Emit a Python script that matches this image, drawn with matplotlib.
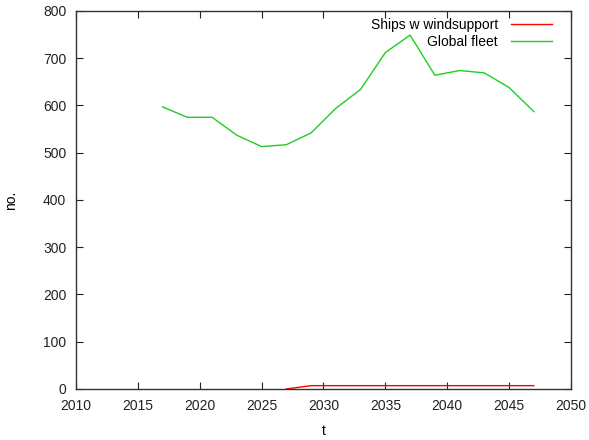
import matplotlib
matplotlib.use("Agg")
import matplotlib.pyplot as plt

plt.rcParams['font.family'] = ['Liberation Sans', 'DejaVu Sans']

# Fleet counts per year
fleet_years = [2017, 2019, 2021, 2023, 2025, 2027, 2029, 2031, 2033, 2035,
               2037, 2039, 2041, 2043, 2045, 2047]
global_fleet = [597, 575, 575, 537, 513, 517, 542, 594, 634, 712,
                749, 664, 674, 669, 638, 587]

wind_years = [2027, 2029, 2031, 2033, 2035, 2037, 2039, 2041, 2043, 2045, 2047]
wind_ships = [0, 7, 7, 7, 7, 7, 7, 7, 7, 7, 7]

fig = plt.figure(figsize=(5.89, 4.40), dpi=100)
ax = fig.add_axes([0.129, 0.116, 0.8404, 0.859])

ax.plot(wind_years, wind_ships, color='#ff0000', linewidth=1.0, label='Ships w windsupport')
ax.plot(fleet_years, global_fleet, color='#22cc22', linewidth=1.0, label='Global fleet')

ax.set_xlim(2010, 2050)
ax.set_ylim(0, 800)
ax.set_xticks(range(2010, 2051, 5))
ax.set_yticks(range(0, 801, 100))
ax.tick_params(direction='in', top=True, right=True, length=5, width=0.8,
               labelsize=10, colors='#222222', pad=7)
for s in ax.spines.values():
    s.set_color('#333333')
    s.set_linewidth(1.0)

ax.set_xlabel('t', fontsize=10, labelpad=8)
ax.set_ylabel('no.', fontsize=10, labelpad=18)

ax.legend(loc='upper right', frameon=False, markerfirst=False, fontsize=10,
          handlelength=3.0, handletextpad=0.9, borderaxespad=0.2,
          labelspacing=0.2, bbox_to_anchor=(0.979, 1.003))
for t in ax.get_legend().get_texts():
    t.set_ha('right')

fig.savefig('out.png', dpi=100)
